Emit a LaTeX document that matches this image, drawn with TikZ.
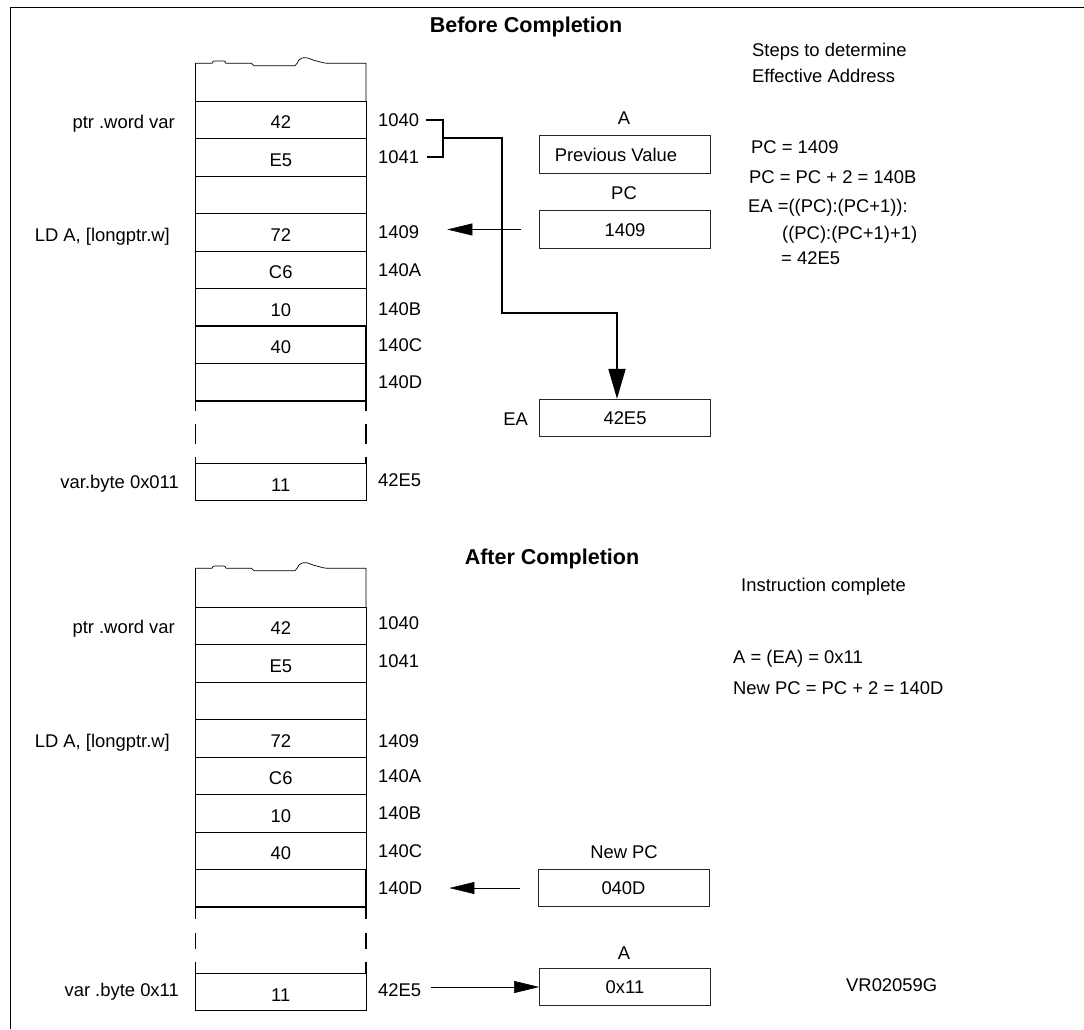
\documentclass[tikz,border=0pt]{standalone}
\usepackage{fontspec}
\setmainfont{Liberation Sans}
\usetikzlibrary{arrows.meta}
\newcommand\fsz{\fontsize{18.4}{21}\selectfont}
\begin{document}
\begin{tikzpicture}[x=1pt,y=-1pt,
  txt/.style={font=\fsz, inner sep=0pt, text height=13pt, text depth=0pt},
  ttl/.style={font=\fontsize{21.5}{24}\selectfont\bfseries, inner sep=0pt, text height=15.5pt, text depth=0pt},
  cell/.style={draw=black, line width=0.7pt, minimum width=170.5pt, minimum height=37.5pt, inner sep=0pt, text height=18.4pt, text depth=0pt, font=\fsz},
  thickcell/.style={cell, line width=1.8pt},
  reg/.style={draw=black!85, line width=0.8pt, minimum width=171pt, minimum height=37.5pt, inner sep=0pt, text height=13pt, text depth=0pt, font=\fsz},
  dash seg/.style={line width=1.8pt},
  bracketline/.style={line width=1.8pt},
  bigarrow/.style={line width=1.8pt, -{Triangle[length=30pt,width=17pt]}},
  thinarrow/.style={line width=0.6pt, -{Triangle[length=25pt,width=12pt]}}
]
\useasboundingbox (0,0) rectangle (1084,1029);
% frame
\draw[line width=1pt] (10.5,1029) -- (10.5,7) -- (1084,7);

% ================= BEFORE =================
\node[ttl] (t1) at (526,25) {Before Completion};
\node[txt, anchor=west] (s1) at (752,50) {Steps to determine};
\node[txt, anchor=west] (s2) at (752,76) {Effective Address};
\node[txt, anchor=west] (s3) at (751,147) {PC = 1409};
\node[txt, anchor=west] (s4) at (749,177) {PC = PC + 2 = 140B};
\node[txt, anchor=west] (s5) at (748,206) {EA =((PC):(PC+1)):};
\node[txt, anchor=west] (s6) at (782,233) {((PC):(PC+1)+1)};
\node[txt, anchor=west] (s7) at (781,258) {= 42E5};

% torn top
\draw[line width=0.7pt] (195.5,101) -- (195.5,63.3) -- (212,63.3) .. controls (213,61) .. (215,61) -- (223,61) .. controls (225,61) .. (226,63.3) -- (251.5,63.3) -- (254,65.7) -- (295,65.7) -- (297,63.3) .. controls (299,58) and (303,57.5) .. (306,57.7) .. controls (309,58) and (312,60) .. (316.7,61) -- (323,62.7) -- (327,63.3) -- (366,63.3) -- (366,101);

\node[cell] (b0) at (280.75,119.75) {42};
\node[cell] (b1) at (280.75,157.25) {E5};
\node[cell] (b2) at (280.75,194.75) {};
\node[cell] (b3) at (280.75,232.25) {72};
\node[cell] (b4) at (280.75,269.75) {C6};
\node[cell] (b5) at (280.75,307.25) {10};
\node[thickcell] (b6) at (280.75,344.75) {40};
\node[thickcell] (b7) at (280.75,382.25) {};
\node[cell] (b8) at (280.75,482) {11};
\foreach \xx in {195.5,366}{
  \draw[dash seg] (\xx,401) -- (\xx,411);
  \draw[dash seg] (\xx,424) -- (\xx,444);
  \draw[dash seg] (\xx,457) -- (\xx,463);
}

\node[txt, anchor=east] (l1) at (175,121.5) {ptr .word var};
\node[txt, anchor=east] (l2) at (170,235) {LD A, [longptr.w]};
\node[txt, anchor=east] (l3) at (179,482) {var.byte 0x011};

\node[txt, anchor=west] (a1040) at (378,120) {1040};
\node[txt, anchor=west] (a1041) at (378,157) {1041};
\node[txt, anchor=west] (a1409) at (378,232) {1409};
\node[txt, anchor=west] (a140A) at (378,270) {140A};
\node[txt, anchor=west] (a140B) at (378,309) {140B};
\node[txt, anchor=west] (a140C) at (378,345) {140C};
\node[txt, anchor=west] (a140D) at (378,382) {140D};
\node[txt, anchor=west] (a42E5) at (378,480) {42E5};

\node[txt] (labA) at (624,118) {A};
\node[reg] (regA) at (625,154.5) {\hspace*{-18pt}Previous Value};
\node[txt] (labPC) at (624,193) {PC};
\node[reg] (regPC) at (625,229.5) {1409};
\node[txt, anchor=east] (labEA) at (528,419) {EA};
\node[reg] (regEA) at (625,418) {42E5};

\coordinate (br) at (443,138);
\coordinate (bend) at (502,313);
\draw[bracketline] ([xshift=7pt]a1040.east) -| (br) |- ([xshift=8pt]a1041.east);
\draw[bigarrow] (br) -| (bend) -| ([xshift=-8pt]regEA.north);
\draw[thinarrow] ([xshift=-18pt]regPC.west) -- ([xshift=28pt]a1409.east |- regPC.west);

% ================= AFTER =================
\node[ttl] (t2) at (552,557) {After Completion};
\node[txt, anchor=west] (r1) at (741,585) {Instruction complete};
\node[txt, anchor=west] (r2) at (733,657) {A = (EA) = 0x11};
\node[txt, anchor=west] (r3) at (733,688) {New PC = PC + 2 = 140D};
\node[txt, anchor=west] (vr) at (846,985) {VR02059G};

\begin{scope}[shift={(0,505)}]
\draw[line width=0.7pt] (195.5,102) -- (195.5,63.3) -- (212,63.3) .. controls (213,61) .. (215,61) -- (223,61) .. controls (225,61) .. (226,63.3) -- (251.5,63.3) -- (254,65.7) -- (295,65.7) -- (297,63.3) .. controls (299,58) and (303,57.5) .. (306,57.7) .. controls (309,58) and (312,60) .. (316.7,61) -- (323,62.7) -- (327,63.3) -- (366,63.3) -- (366,102);
\end{scope}

\node[cell] (c0) at (280.75,625.75) {42};
\node[cell] (c1) at (280.75,663.25) {E5};
\node[cell] (c2) at (280.75,700.75) {};
\node[cell] (c3) at (280.75,738.25) {72};
\node[cell] (c4) at (280.75,775.75) {C6};
\node[cell] (c5) at (280.75,813.25) {10};
\node[cell] (c6) at (280.75,850.75) {40};
\node[thickcell] (c7) at (280.75,888.25) {};
\node[cell] (c8) at (280.75,992) {11};
\foreach \xx in {195.5,366}{
  \draw[dash seg] (\xx,907) -- (\xx,919);
  \draw[dash seg] (\xx,933) -- (\xx,949);
  \draw[dash seg] (\xx,962) -- (\xx,973);
}

\node[txt, anchor=east] (m1) at (175,627) {ptr .word var};
\node[txt, anchor=east] (m2) at (170,741) {LD A, [longptr.w]};
\node[txt, anchor=east] (m3) at (179,990) {var .byte 0x11};

\node[txt, anchor=west] (d1040) at (378,623) {1040};
\node[txt, anchor=west] (d1041) at (378,661) {1041};
\node[txt, anchor=west] (d1409) at (378,741) {1409};
\node[txt, anchor=west] (d140A) at (378,776) {140A};
\node[txt, anchor=west] (d140B) at (378,813) {140B};
\node[txt, anchor=west] (d140C) at (378,851) {140C};
\node[txt, anchor=west] (d140D) at (378,888) {140D};
\node[txt, anchor=west] (d42E5) at (378,990) {42E5};

\node[txt] (labNPC) at (624,852) {New PC};
\node[reg] (regNPC) at (623.5,888) {040D};
\node[txt] (labA2) at (624,953) {A};
\node[reg] (regA2) at (625,987) {0x11};

\draw[thinarrow] ([xshift=-18pt]regNPC.west) -- ([xshift=27pt]d140D.east |- regNPC.west);
\draw[thinarrow] ([xshift=10pt]d42E5.east |- regA2.west) -- (regA2.west);
\end{tikzpicture}
\end{document}
